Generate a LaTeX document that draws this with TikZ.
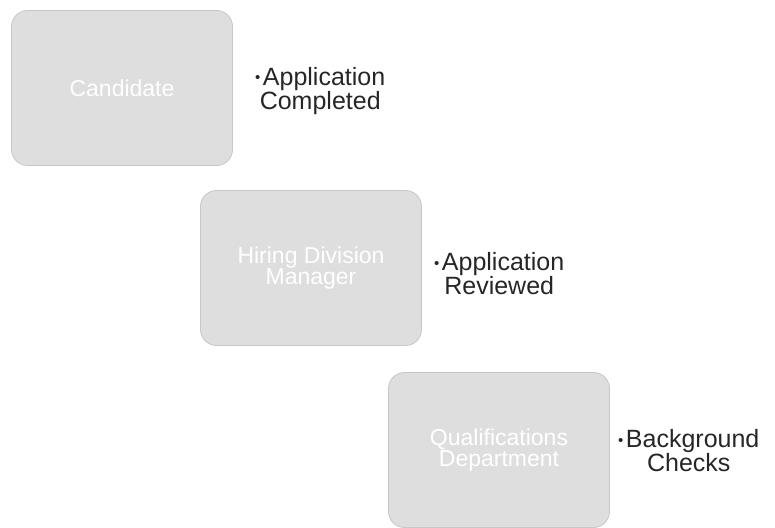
\documentclass[tikz,border=0pt]{standalone}
\usepackage{fontspec}
\setmainfont{Liberation Sans}
\newcommand{\smbul}{\raisebox{0.1em}{\scalebox{0.6}{\textbullet}}\hspace{0.1em}}
\begin{document}
\begin{tikzpicture}[x=1pt,y=-1pt,
  boxst/.style={draw=black!22,fill=black!13,line width=0.8pt,rounded corners=16pt,
    minimum width=221pt,minimum height=155pt,inner sep=0pt,
    text=white,font=\fontsize{23}{21}\selectfont,align=center},
  lbl/.style={font=\fontsize{25}{24}\selectfont,align=center,text=black!85,inner sep=0pt}]
\useasboundingbox (0,0) rectangle (775,527);
\node[boxst] (c) at (122,88) {Candidate};
\node[boxst] (h) at (311,268) {Hiring Division\\Manager};
\node[boxst] (q) at (499,450) {Qualifications\\Department};
\node[lbl,anchor=west] (a1) at (255,91) {\smbul Application\\Completed};
\node[lbl,anchor=west] (a2) at (434,274) {\smbul Application\\Reviewed};
\node[lbl,anchor=west] (a3) at (618,451) {\smbul Background\\Checks};
\end{tikzpicture}
\end{document}
